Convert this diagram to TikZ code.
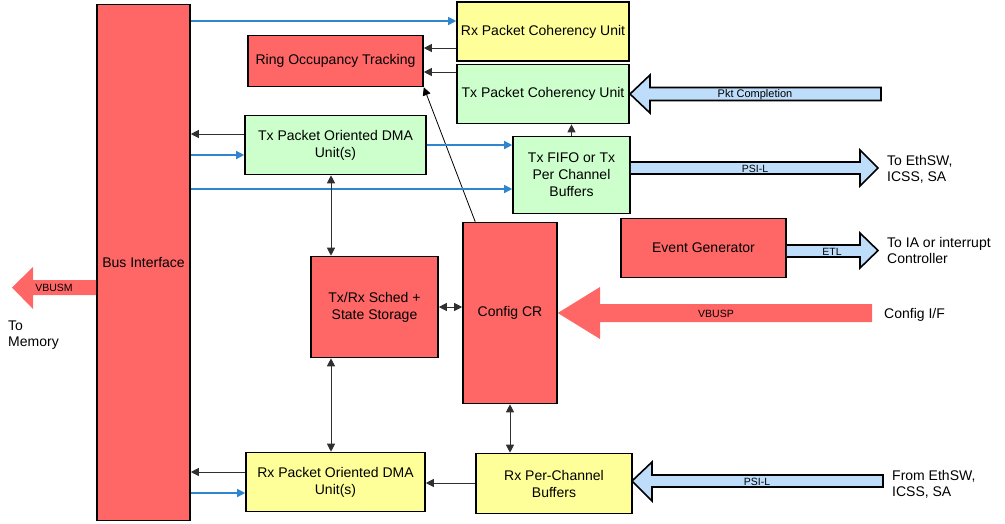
\documentclass[tikz,border=0pt]{standalone}
\usepackage{fontspec}
\setmainfont{Liberation Sans}
\usetikzlibrary{arrows.meta,calc}
\definecolor{boxred}{HTML}{FF6666}
\definecolor{boxyellow}{HTML}{FFFF99}
\definecolor{boxgreen}{HTML}{CCFFCC}
\definecolor{fatblue}{HTML}{BDDDFB}
\definecolor{linkblue}{HTML}{2F86D0}
\definecolor{linkdark}{HTML}{303030}
\begin{document}
\begin{tikzpicture}[x=1pt,y=-1pt,
  blk/.style={draw=black, line width=1.6pt, align=center, inner sep=0pt,
    font=\fontsize{14}{17}\selectfont},
  redblk/.style={blk, fill=boxred},
  yelblk/.style={blk, fill=boxyellow},
  grnblk/.style={blk, fill=boxgreen},
  tip/.style={-{Triangle[length=8pt,width=8pt]}},
  dtip/.style={{Triangle[length=8pt,width=8pt]}-{Triangle[length=8pt,width=8pt]}},
  conn/.style={draw=linkdark, line width=1pt, tip},
  bconn/.style={draw=linkblue, line width=1.3pt, -{Triangle[length=8pt,width=8pt]}},
  dconn/.style={draw=linkdark, line width=1pt, dtip},
  fat/.style={draw=black, line width=1.6pt, fill=fatblue, line join=miter},
  fatred/.style={fill=boxred},
  small/.style={font=\fontsize{10.5}{12}\selectfont, inner sep=0pt},
  outer/.style={font=\fontsize{14}{16}\selectfont, align=left, anchor=west, inner sep=0pt}]
\useasboundingbox (0,0) rectangle (1005,523);

% blocks
\node[redblk, minimum width=93pt, minimum height=516pt] (bus) at (143.5,262.5) {Bus Interface};
\node[yelblk, minimum width=172pt, minimum height=59pt] (rxcoh) at (543,31.5) {Rx Packet Coherency Unit};
\node[redblk, minimum width=175pt, minimum height=51pt] (ring) at (335.5,61) {Ring Occupancy Tracking};
\node[grnblk, minimum width=172pt, minimum height=59pt] (txcoh) at (543,94) {Tx Packet Coherency Unit};
\node[grnblk, minimum width=181pt, minimum height=59pt] (txdma) at (335.5,145) {Tx Packet Oriented DMA\\Unit(s)};
\node[grnblk, minimum width=117pt, minimum height=77pt] (txfifo) at (571.5,175) {Tx FIFO or Tx\\Per Channel\\Buffers};
\node[redblk, minimum width=165pt, minimum height=59pt] (evgen) at (703.5,248) {Event Generator};
\node[redblk, minimum width=94pt, minimum height=181pt] (config) at (510,313) {Config CR};
\node[redblk, minimum width=127pt, minimum height=101pt] (sched) at (374.5,307) {Tx/Rx Sched +\\State Storage};
\node[yelblk, minimum width=179pt, minimum height=59pt] (rxdma) at (335.5,482) {Rx Packet Oriented DMA\\Unit(s)};
\node[yelblk, minimum width=156pt, minimum height=60pt] (rxper) at (554,483.5) {Rx Per-Channel\\Buffers};

% thin connectors
\draw[bconn] (bus.east |- 0,21) -- (rxcoh.west |- 0,21);
\draw[conn] (rxcoh.west |- 0,48) -- (ring.east |- 0,48);
\draw[conn] (txcoh.west |- 0,72) -- (ring.east |- 0,72);
\draw[draw=black, line width=0.8pt, tip] ($(config.north west)+(13,0)$) -- (ring.south east);
\draw[conn] (txdma.west |- 0,134) -- (bus.east |- 0,134);
\draw[bconn] (bus.east |- 0,155) -- (txdma.west |- 0,155);
\draw[bconn] (txdma.east |- 0,145) -- (txfifo.west |- 0,145);
\draw[bconn] (bus.east |- 0,189) -- (txfifo.west |- 0,189);
\draw[conn] (txfifo.north) -- (txfifo.north |- txcoh.south);
\coordinate (vx) at (331,0);
\draw[dconn] (vx |- txdma.south) -- (vx |- sched.north);
\draw[dconn] (vx |- sched.south) -- (vx |- rxdma.north);
\draw[dconn] (sched.east) -- (sched.east -| config.west);
\draw[dconn] (config.south) -- (config.south |- rxper.north);
\draw[conn] (rxper.west |- 0,483) -- (rxdma.east |- 0,483);
\draw[conn] (rxdma.west |- 0,472) -- (bus.east |- 0,472);
\draw[bconn] (bus.east |- 0,493) -- (rxdma.west |- 0,493);

% fat arrows
\draw[fat] (630,94) -- (650,75) -- (650,87.5) -- (881,87.5) -- (881,100.5) -- (650,100.5) -- (650,113) -- cycle;
\node[small, font=\fontsize{11}{12}\selectfont] (lblpkt) at (755,94.5) {Pkt Completion};

\draw[fat] (txfifo.east |- 0,162) -- (860,162) -- (860,150) -- (878,168) -- (860,186) -- (860,174) -- (txfifo.east |- 0,174);
\node[small] (lblpsi1) at (755,168.5) {PSI-L};

\draw[fat] (evgen.east |- 0,245) -- (860,245) -- (860,233) -- (878,250.5) -- (860,268) -- (860,257) -- (evgen.east |- 0,257);
\node[small] (lbletl) at (832,251.5) {ETL};

\fill[fatred] (config.east |- 0,313) -- (600,287) -- (600,304) -- (872,304) -- (872,322) -- (600,322) -- (600,339) -- cycle;
\node[small] (lblvbusp) at (716,313.5) {VBUSP};

\fill[fatred] (bus.west |- 0,280) -- (33,280) -- (33,267) -- (12,287.5) -- (33,309) -- (33,295) -- (bus.west |- 0,295) -- cycle;
\node[small] (lblvbusm) at (54,287.5) {VBUSM};

\draw[fat] (632,481) -- (652,462) -- (652,475) -- (883,475) -- (883,487) -- (652,487) -- (652,501) -- cycle;
\node[small] (lblpsi2) at (757,481.5) {PSI-L};

% outer labels
\node[outer] (toeth) at (887,169) {To EthSW,\\ICSS, SA};
\node[outer] (toia) at (887,250) {To IA or interrupt\\Controller};
\node[outer] (cfgif) at (884,315) {Config I/F};
\node[outer] (frometh) at (892,484) {From EthSW,\\ICSS, SA};
\node[outer] (tomem) at (8,335.5) {To\\Memory};
\end{tikzpicture}
\end{document}
